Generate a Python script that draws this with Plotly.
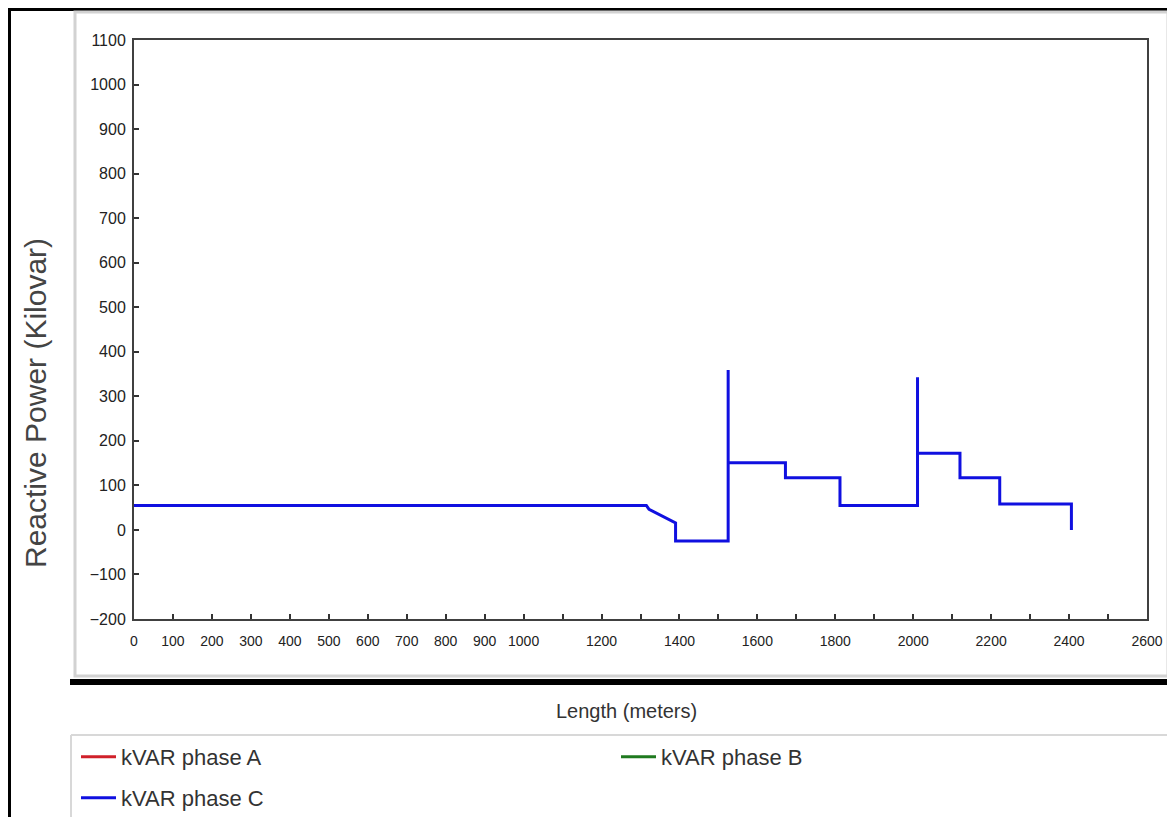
import plotly.graph_objects as go

# ---- data ----
length_m = [0, 1315, 1322, 1390, 1390, 1525, 1525, 1525, 1672, 1672, 1812, 1812,
            2011, 2011, 2011, 2120, 2120, 2222, 2222, 2406, 2406]
kvar_phase_c = [55, 55, 46, 16, -25, -25, 359, 151, 151, 117, 117, 55,
                55, 343, 172, 172, 117, 117, 58, 58, 0]

x_tick_vals = list(range(0, 2700, 100))
x_tick_text = [str(v) if (v <= 1000 or v % 200 == 0) else "" for v in x_tick_vals]
y_tick_vals = list(range(-200, 1200, 100))

series_names = ["kVAR phase A", "kVAR phase B", "kVAR phase C"]
series_colors = ["#d0202a", "#1f7a1f", "#1010e0"]
x_title = "Length (meters)"
y_title = "Reactive Power (Kilovar)"

# ---- layout geometry (reference-page pixels) ----
OFF = 8                      # page body margin of the html page
W, H = 1175, 817             # window size
L, R, T, B = 134, 1147, 40, 619   # plot area in page pixels


def fx(px):
    return (px - L) / (R - L)


def fy(py):
    return (B - py) / (B - T)


FONT = "Liberation Sans, Arial, sans-serif"

fig = go.Figure()
fig.add_trace(go.Scatter(x=[None], y=[None], mode="lines", name=series_names[0],
                         line=dict(color=series_colors[0], width=3), legend="legend"))
fig.add_trace(go.Scatter(x=[None], y=[None], mode="lines", name=series_names[1],
                         line=dict(color=series_colors[1], width=3), legend="legend"))
fig.add_trace(go.Scatter(x=length_m, y=kvar_phase_c, mode="lines", name=series_names[2],
                         line=dict(color=series_colors[2], width=3), legend="legend2"))

shapes = [
    # outer black frame (top and left)
    dict(type="rect", xref="paper", yref="paper", x0=fx(OFF), x1=fx(W), y0=fy(OFF + 3), y1=fy(OFF),
         fillcolor="black", line=dict(width=0)),
    dict(type="rect", xref="paper", yref="paper", x0=fx(OFF), x1=fx(OFF + 3), y0=fy(H), y1=fy(OFF),
         fillcolor="black", line=dict(width=0)),
    # light grey chart panel
    dict(type="rect", xref="paper", yref="paper", x0=fx(75), x1=fx(1168), y0=fy(676), y1=fy(12),
         fillcolor="rgba(0,0,0,0)", line=dict(color="#d2d2d2", width=3)),
    # thick black separator
    dict(type="rect", xref="paper", yref="paper", x0=fx(70), x1=fx(W), y0=fy(685), y1=fy(679),
         fillcolor="black", line=dict(width=0)),
    # legend box border
    dict(type="line", xref="paper", yref="paper", x0=fx(71), x1=fx(W), y0=fy(735), y1=fy(735),
         line=dict(color="#d8d8d8", width=2)),
    dict(type="line", xref="paper", yref="paper", x0=fx(71), x1=fx(71), y0=fy(735), y1=fy(H),
         line=dict(color="#d8d8d8", width=2)),
]

annotations = [
    dict(text=x_title, xref="paper", yref="paper", x=fx(626), y=fy(711),
         xanchor="center", yanchor="middle", showarrow=False,
         font=dict(family=FONT, size=20, color="#333333")),
    dict(text=y_title, xref="paper", yref="paper", x=fx(35), y=fy(403), textangle=-90,
         xanchor="center", yanchor="middle", showarrow=False,
         font=dict(family=FONT, size=30, color="#444444")),
]

fig.update_layout(
    width=W - OFF, height=H - OFF,
    margin=dict(l=L - OFF, r=W - R, t=T - OFF, b=H - B, autoexpand=False),
    paper_bgcolor="white", plot_bgcolor="white",
    font=dict(family=FONT, color="#333333"),
    shapes=shapes,
    annotations=annotations,
    xaxis=dict(
        range=[0, 2600], tickmode="array", tickvals=x_tick_vals, ticktext=x_tick_text,
        ticks="inside", ticklen=5, tickwidth=1.5, tickcolor="#333333",
        showline=True, linecolor="#404040", linewidth=2, mirror=True,
        showgrid=False, zeroline=False,
        tickfont=dict(family=FONT, size=14, color="#222222"),
        ticklabelstandoff=8,
    ),
    yaxis=dict(
        range=[-200, 1100], tickmode="array", tickvals=y_tick_vals,
        ticks="inside", ticklen=5, tickwidth=1.5, tickcolor="#333333",
        showline=True, linecolor="#404040", linewidth=2, mirror=True,
        showgrid=False, zeroline=False,
        tickfont=dict(family=FONT, size=16, color="#222222"),
        ticklabelstandoff=3,
    ),
    legend=dict(orientation="h", x=fx(76), y=fy(736), xanchor="left", yanchor="top",
                entrywidth=490, entrywidthmode="pixels",
                font=dict(family=FONT, size=22, color="#333333"),
                bgcolor="rgba(0,0,0,0)", itemwidth=35),
    legend2=dict(orientation="h", x=fx(76), y=fy(777), xanchor="left", yanchor="top",
                 font=dict(family=FONT, size=22, color="#333333"),
                 bgcolor="rgba(0,0,0,0)", itemwidth=35),
    showlegend=True,
)

fig.write_html("out.html")
